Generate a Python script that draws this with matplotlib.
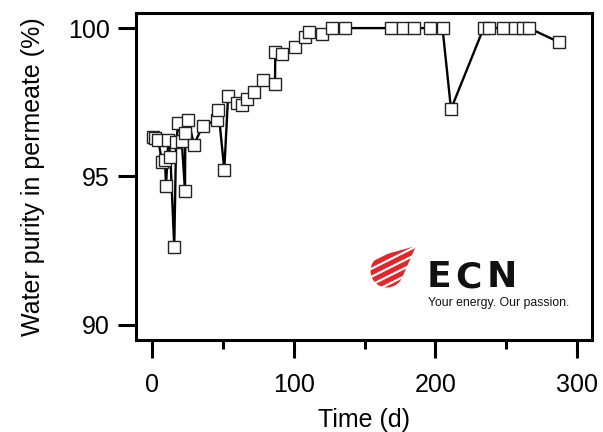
import matplotlib.pyplot as plt
import numpy as np
from matplotlib.path import Path

# Water purity in permeate over time
days = [0.7, 2.1, 4.5, 7, 9.2, 9.9, 11.5, 13, 15.7, 17, 18.6, 21, 23.3, 23.5,
        25.6, 29.6, 35.8, 46, 46.8, 51, 53.7, 59.8, 63.3, 66.8, 72, 78.6,
        86.8, 87, 92, 101, 108, 111, 120, 127, 136, 169, 177, 185, 196, 205,
        211, 234, 238, 248, 256, 262, 266, 287]
purity = [96.33, 96.3, 96.22, 95.5, 95.57, 94.67, 96.24, 95.65, 92.63, 96.15,
          96.8, 96.2, 94.52, 96.46, 96.91, 96.07, 96.71, 96.91, 97.25, 95.23,
          97.7, 97.47, 97.42, 97.6, 97.85, 98.26, 98.12, 99.19, 99.12, 99.36,
          99.7, 99.86, 99.8, 100, 100, 100, 100, 100, 100, 100,
          97.27, 100, 100, 100, 100, 100, 100, 99.53]

plt.rcParams['font.family'] = ['Liberation Sans', 'DejaVu Sans']

fig = plt.figure(figsize=(6.03, 4.32), dpi=100)
ax = fig.add_axes([0.2255, 0.213, 0.7563, 0.757])

ax.plot(days, purity, color='black', lw=1.7, marker='s', ms=8.8,
        mfc='white', mec='#222222', mew=1.0)

ax.set_xlim(-11.3, 310.5)
ax.set_ylim(89.49, 100.51)
ax.set_xticks([0, 100, 200, 300])
ax.set_xticks([50, 150, 250], minor=True)
ax.set_yticks([90, 95, 100])

for s in ax.spines.values():
    s.set_linewidth(2.2)
ax.tick_params(axis='both', which='major', direction='out', length=13, width=2.2,
               labelsize=18)
ax.tick_params(axis='x', which='major', pad=11)
ax.tick_params(axis='y', which='major', pad=6)
ax.tick_params(axis='x', which='minor', direction='out', length=6.5, width=2.2)

ax.set_xlabel('Time (d)', fontsize=18, labelpad=8)
ax.set_ylabel('Water purity in permeate (%)', fontsize=18, labelpad=16)

# ECN logo: striped circle with a tail towards the upper right
lax = fig.add_axes([366 / 603, 1 - 290 / 432, 54 / 603, 46 / 432])
lax.set_xlim(366, 420)
lax.set_ylim(-290, -244)
lax.axis('off')
cx, cy, r = 387, -271, 16.5
tip = (416, -246)
ang = np.radians(np.linspace(106, 335.5, 60))
verts = list(zip(cx + r * np.cos(ang), cy + r * np.sin(ang))) + [tip, tip]
codes = [Path.MOVETO] + [Path.LINETO] * (len(verts) - 2) + [Path.CLOSEPOLY]
hull = Path(verts, codes)
xs = np.array([360, 425])
for b in [-259.0, -267.0, -275.0, -283.0, -291.0]:
    lo = b + 0.5 * (xs - cx)
    band = lax.fill_between(xs, lo, lo + 5.6, color='#e3262a', lw=0)
    band.set_clip_path(hull, lax.transData)

for letter, px in [('E', 427), ('C', 455), ('N', 487)]:
    fig.text(px / 603, 1 - 287 / 432, letter, fontsize=26, fontweight='bold',
             family='DejaVu Sans', color='#111111', ha='left', va='baseline')
fig.text(428 / 603, 1 - 306 / 432, 'Your energy. Our passion.', fontsize=8.8,
         color='#111111', ha='left', va='baseline')

fig.savefig('out.png', dpi=100)
